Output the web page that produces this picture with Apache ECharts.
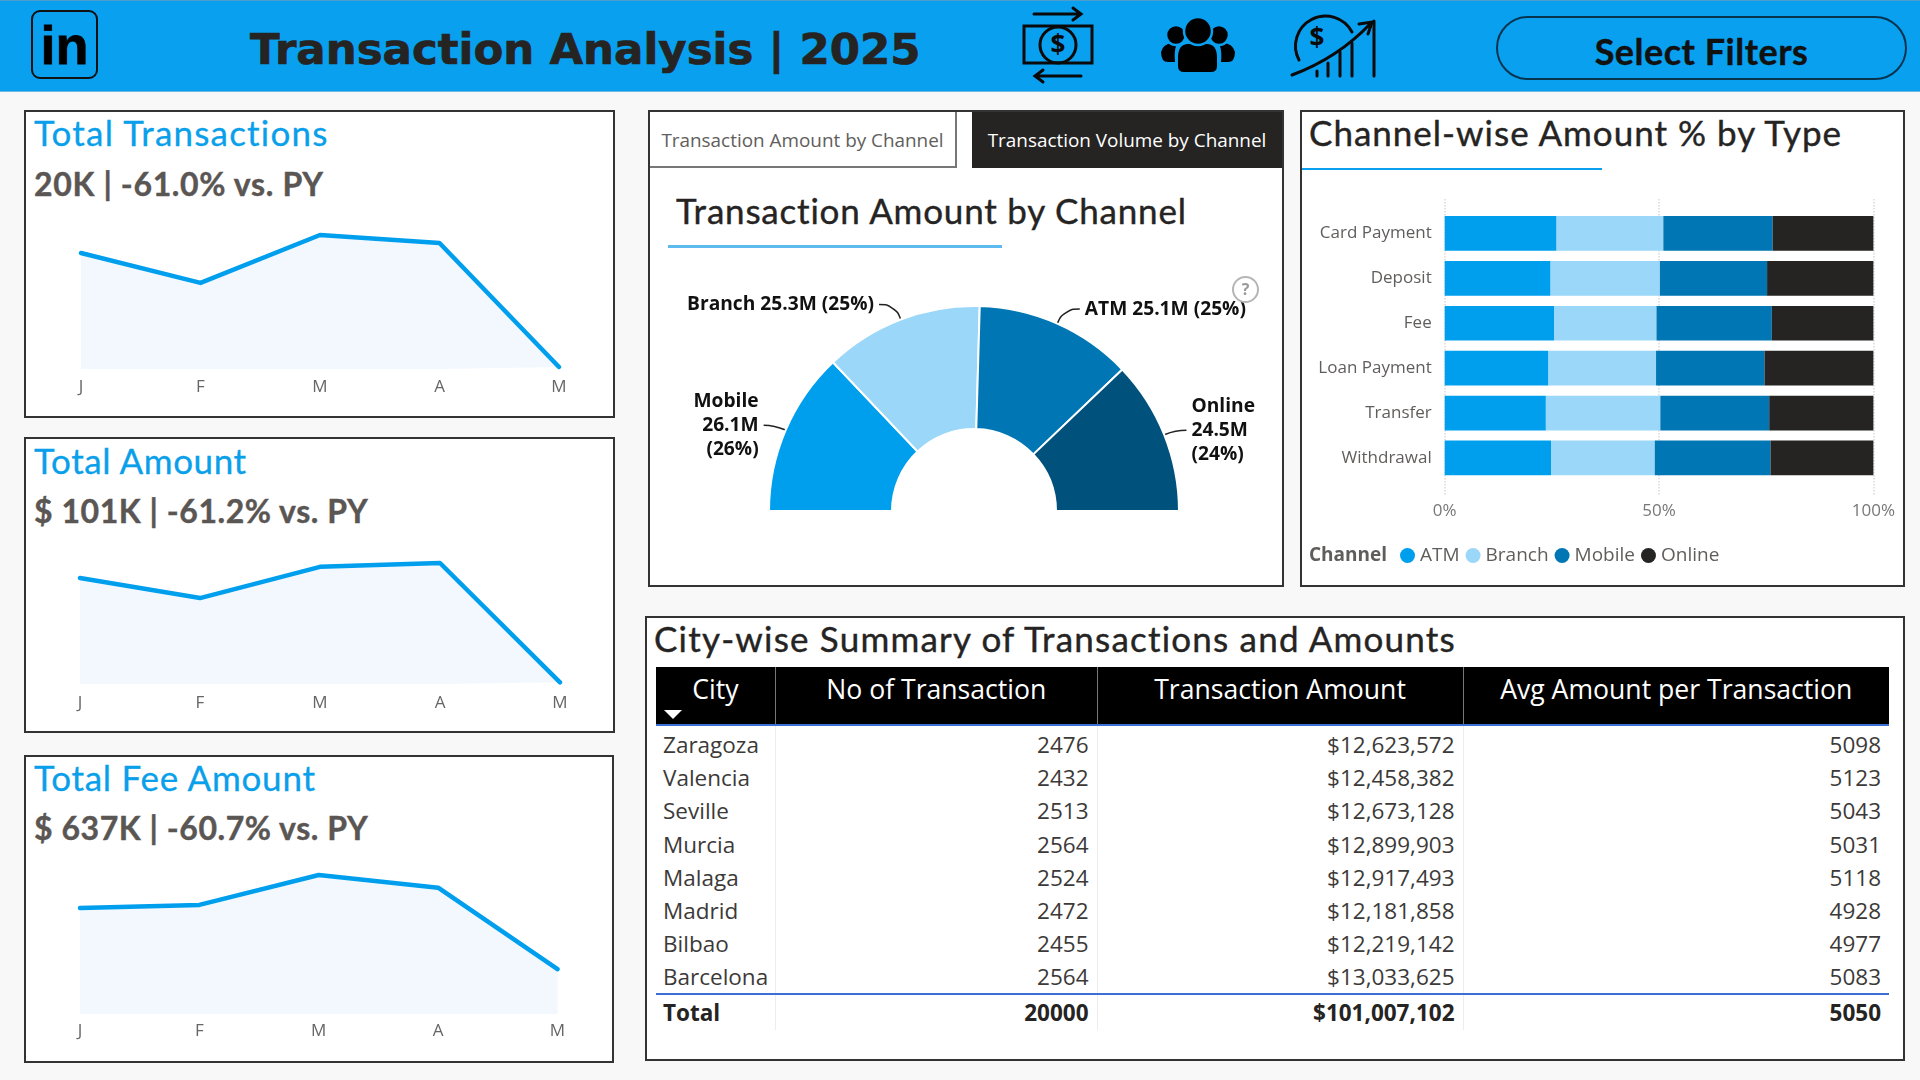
<!DOCTYPE html>
<html>
<head>
<meta charset="utf-8">
<title>Transaction Analysis | 2025</title>
<script src="https://cdn.jsdelivr.net/npm/echarts@6/dist/echarts.min.js"></script>
<style>
    html, body { margin: 0; padding: 0; background: #F8F8F8; width: 1920px; height: 1080px; overflow: hidden; font-family: "Open Sans", sans-serif; }
    .abs { position: absolute; }
    .header { left: 0; top: 0; width: 1920px; height: 92px; background: #0AA0F0; border-bottom: 1px solid #6FB8E6; border-top: 1px solid #4F9CCB; box-sizing: border-box; }
    .brand { left: 31px; top: 10px; width: 67px; height: 69px; border: 2px solid #111; border-radius: 9px; box-sizing: border-box; font: bold 54px "Liberation Sans"; color: #000; -webkit-text-stroke: 0.8px #000; text-align: center; line-height: 67px; }
    .main-title { left: 250px; top: 18px; font: bold 43.5px/62px "DejaVu Sans"; color: #252423; -webkit-text-stroke: 0.7px #252423; white-space: nowrap; }
    .filters { left: 1496px; top: 16px; width: 411px; height: 64px; border: 2px solid #06344F; border-radius: 32px; box-sizing: border-box; text-align: center; font: bold 36px/66px Lato; letter-spacing: 0.5px; color: #111; -webkit-text-stroke: 0.4px #111; }
    .panel { background: #fff; border: 2px solid #333; box-sizing: border-box; }
    .din { font-family: Lato, sans-serif; white-space: nowrap; }
    .card-title { color: #0A9FEA; font-size: 35px; line-height: 40px; letter-spacing: 1.2px; -webkit-text-stroke: 0.3px #0A9FEA; }
    .card-kpi { color: #5A5654; font-size: 32px; line-height: 40px; font-weight: bold; letter-spacing: 0.55px; -webkit-text-stroke: 0.4px #5A5654; }
    .tab { box-sizing: border-box; text-align: center; font-size: 18.9px; line-height: 56px; white-space: nowrap; }
    .tab-on { background: #fff; color: #605E5C; border: 2px solid #777; border-left: 0; border-top: 0; }
    .tab-off { background: #252423; color: #fff; }
    .panel-title { color: #252423; font-size: 35px; line-height: 42px; letter-spacing: 0.8px; -webkit-text-stroke: 0.4px #252423; }
    .help { left: 1232px; top: 276px; width: 27px; height: 27px; border: 2px solid #B5B5B5; border-radius: 50%; box-sizing: border-box; color: #999; font: bold 16px/23px "Open Sans"; text-align: center; z-index: 5; }
    table { border-collapse: collapse; table-layout: fixed; left: 656px; top: 667px; width: 1233px; font-size: 22.5px; color: #3C3A38; }
    th { background: #000; color: #fff; font-weight: normal; font-size: 26.6px; height: 58px; vertical-align: top; padding: 4px 0 0 0; border-left: 1px solid #777; border-bottom: 2px solid #3B6FD4; box-sizing: border-box; position: relative; }
    th:first-child { border-left: 0; }
    td { height: 33.3px; padding: 0 8px; box-sizing: border-box; border-left: 1px solid #EDEDED; text-align: right; white-space: nowrap; line-height: 30px; }
    td:first-child { border-left: 0; text-align: left; padding-left: 7px; padding-right: 0; }
    tr.spacer td { height: 3px; font-size: 0; line-height: 0; }
    tr.total td { font-weight: bold; height: 36px; color: #252423; border-top: 2px solid #3B6FD4; }
    .sort { position: absolute; left: 8px; top: 43px; width: 0; height: 0; border-left: 9px solid transparent; border-right: 9px solid transparent; border-top: 9px solid #fff; }
</style>
</head>
<body>

<div class="abs header"></div>
<div class="abs brand">in</div>
<div class="abs main-title">Transaction Analysis | 2025</div>

<svg class="abs" style="left:1010px;top:0" width="390" height="91" fill="none" stroke="#0A0A0A" stroke-linecap="round">
    <!-- money transfer -->
    <rect x="14" y="26" width="68" height="37" stroke-width="3"/>
    <circle cx="48" cy="45" r="18" stroke-width="3"/>
    <text x="48" y="54" text-anchor="middle" font-family="Open Sans" font-weight="bold" font-size="26" fill="#0A0A0A" stroke="none">$</text>
    <path d="M24 14H70M63 8L71 14L63 20" stroke-width="3"/>
    <path d="M71 76H26M33 70L25 76L33 82" stroke-width="3"/>
    <!-- people -->
    <g fill="#000" stroke="none">
        <path d="M168 58Q168 44 178 44H197Q207 44 207 58V66Q207 72 201 72H174Q168 72 168 66Z"/>
        <path d="M151 52Q153 44 162 43L166 46Q164 52 165 62H158Q151 62 151 52Z"/>
        <path d="M225 52Q223 44 214 43L210 46Q212 52 211 62H218Q225 62 225 52Z"/>
    </g>
    <g fill="#000" stroke="#0AA0F0" stroke-width="2.5">
        <circle cx="166" cy="35" r="10"/>
        <circle cx="209" cy="35" r="10"/>
        <circle cx="188" cy="31" r="14"/>
    </g>
    <!-- growth -->
    <path d="M289 60A24 24 0 1 1 342 32" stroke-width="3"/>
    <text x="307" y="47" text-anchor="middle" font-family="Open Sans" font-weight="bold" font-size="26" fill="#0A0A0A" stroke="none">$</text>
    <path d="M282 75Q328 58 361 23M349 24L362 22L358 34" stroke-width="3"/>
    <path d="M307 76V71M318 76V63M330 76V52M342 76V43M364 76V21" stroke-width="3"/>
</svg>

<div class="abs filters">Select Filters</div>

<div class="abs panel" style="left:24px;top:110px;width:591px;height:308px"></div>
<div class="abs din card-title" style="left:34px;top:112px" id="title0"></div>
<div class="abs din card-kpi" style="left:34px;top:164px;letter-spacing:0.65px" id="kpi0"></div>
<div class="abs" style="left:26px;top:210px;width:587px;height:206px" id="spark0"></div>

<div class="abs panel" style="left:24px;top:437px;width:591px;height:296px"></div>
<div class="abs din card-title" style="left:34px;top:440px;letter-spacing:0.6px" id="title1"></div>
<div class="abs din card-kpi" style="left:34px;top:491px" id="kpi1"></div>
<div class="abs" style="left:26px;top:535px;width:587px;height:196px" id="spark1"></div>

<div class="abs panel" style="left:24px;top:755px;width:590px;height:308px"></div>
<div class="abs din card-title" style="left:34px;top:757px;letter-spacing:0.75px" id="title2"></div>
<div class="abs din card-kpi" style="left:34px;top:808px" id="kpi2"></div>
<div class="abs" style="left:26px;top:850px;width:586px;height:211px" id="spark2"></div>

<div class="abs panel" style="left:648px;top:110px;width:636px;height:477px"></div>
<div class="abs tab tab-on" style="left:650px;top:112px;width:307px;height:56px">Transaction Amount by Channel</div>
<div class="abs tab tab-off" style="left:972px;top:112px;width:310px;height:56px">Transaction Volume by Channel</div>
<div class="abs din panel-title" style="left:676px;top:189px">Transaction Amount by Channel</div>
<div class="abs" style="left:668px;top:245px;width:334px;height:3px;background:#5DB9EE"></div>
<div class="abs help">?</div>
<div class="abs" style="left:650px;top:250px;width:632px;height:335px" id="pie"></div>

<div class="abs panel" style="left:1300px;top:110px;width:605px;height:477px"></div>
<div class="abs din panel-title" style="left:1309px;top:111px;letter-spacing:1px">Channel-wise Amount % by Type</div>
<div class="abs" style="left:1302px;top:168px;width:300px;height:2px;background:#0AA0EE"></div>
<div class="abs" style="left:1302px;top:172px;width:601px;height:413px" id="stack"></div>

<div class="abs panel" style="left:645px;top:616px;width:1260px;height:445px"></div>
<div class="abs din panel-title" style="left:654px;top:617px;letter-spacing:1.2px">City-wise Summary of Transactions and Amounts</div>
<table class="abs" id="cityTable"></table>

<script>
// sparkline cards
var cardTitles = ['Total Transactions', 'Total Amount', 'Total Fee Amount'];
var cardKpis = ['20K | -61.0% vs. PY', '$ 101K | -61.2% vs. PY', '$ 637K | -60.7% vs. PY'];
var months = ['J', 'F', 'M', 'A', 'M'];
var monthlyTransactions = [5000, 3710, 5775, 5430, 86];
var monthlyAmount = [24800, 20100, 27400, 28300, 400];
var monthlyFee = [128600, 132300, 168600, 153200, 54400];

// pie
var pieChannels = ['Mobile', 'Branch', 'ATM', 'Online'];
var pieAmounts = [26.1, 25.3, 25.1, 24.5];
var piePercents = [26, 25, 25, 24];
var pieColors = ['#009FEE', '#9BD7F8', '#0076B4', '#00527D'];

// 100% stacked bars
var txnTypes = ['Card Payment', 'Deposit', 'Fee', 'Loan Payment', 'Transfer', 'Withdrawal'];
var atmShare = [26.1, 24.7, 25.5, 24.2, 23.6, 24.8];
var branchShare = [24.9, 25.5, 23.9, 25.1, 26.7, 24.2];
var mobileShare = [25.5, 25.0, 26.9, 25.3, 25.4, 27.0];
var onlineShare = [23.5, 24.8, 23.7, 25.4, 24.3, 24.0];

// city table
var tableHeaders = ['City', 'No of Transaction', 'Transaction Amount', 'Avg Amount per Transaction'];
var cities = ['Zaragoza', 'Valencia', 'Seville', 'Murcia', 'Malaga', 'Madrid', 'Bilbao', 'Barcelona'];
var cityTransactions = [2476, 2432, 2513, 2564, 2524, 2472, 2455, 2564];
var cityAmounts = ['$12,623,572', '$12,458,382', '$12,673,128', '$12,899,903', '$12,917,493', '$12,181,858', '$12,219,142', '$13,033,625'];
var cityAverages = [5098, 5123, 5043, 5031, 5118, 4928, 4977, 5083];
var tableTotals = ['Total', 20000, '$101,007,102', 5050];

var BLUE = '#009FEE';

function drawSpark(id, values, gridLeft, gridRight, gridTop, gridBottom, labelMargin) {
    var chart = echarts.init(document.getElementById(id));
    chart.setOption({
        animation: false,
        grid: {left: gridLeft, right: gridRight, top: gridTop, bottom: gridBottom},
        xAxis: {
            type: 'category',
            data: months,
            boundaryGap: false,
            axisLine: {show: false},
            axisTick: {show: false},
            axisLabel: {color: '#666', fontSize: 17, fontFamily: 'Open Sans', margin: labelMargin, interval: 0}
        },
        yAxis: {type: 'value', min: 0, max: Math.max.apply(null, values), show: false},
        series: [{
            type: 'line',
            data: values,
            clip: false,
            symbol: 'none',
            lineStyle: {color: BLUE, width: 4.5, cap: 'round', join: 'round'},
            areaStyle: {color: '#F2F8FE', opacity: 1}
        }]
    });
}

drawSpark('spark0', monthlyTransactions, 55, 54, 25, 47, 10);
drawSpark('spark1', monthlyAmount, 54, 53, 28, 47, 11);
drawSpark('spark2', monthlyFee, 54, 54.5, 25, 47, 9);

cardTitles.forEach(function (t, i) {
    document.getElementById('title' + i).textContent = t;
    document.getElementById('kpi' + i).textContent = cardKpis[i];
});

// the two side labels wrap on three lines and sit closer to the arc
function isWrapped(name) {
    return name === 'Mobile' || name === 'Online';
}

var pieChart = echarts.init(document.getElementById('pie'));
pieChart.setOption({
    animation: false,
    series: [{
        type: 'pie',
        center: [324, 261],
        radius: [82, 205],
        startAngle: 180,
        endAngle: 0,
        itemStyle: {borderColor: '#fff', borderWidth: 2},
        label: {
            show: true,
            position: 'outside',
            color: '#111',
            fontFamily: 'Open Sans',
            fontSize: 19.2,
            fontWeight: 'bold',
            lineHeight: 24,
            formatter: function (p) {
                var amount = p.value + 'M', share = '(' + piePercents[p.dataIndex] + '%)';
                if (isWrapped(p.name)) {
                    return p.name + '\n' + amount + '\n' + share;
                }
                return p.name + ' ' + amount + ' ' + share;
            }
        },
        labelLine: {show: true, smooth: 0.5, lineStyle: {color: '#222', width: 1.5}},
        data: pieChannels.map(function (name, i) {
            return {
                name: name,
                value: pieAmounts[i],
                itemStyle: {color: pieColors[i]},
                labelLine: isWrapped(name) ? {length: 12, length2: 11} : {length: 16, length2: 16}
            };
        })
    }]
});

var stackLeft = 142.7, stackWidth = 428.7;
function stackSeries(name, values, color) {
    return {name: name, type: 'bar', stack: 'share', barWidth: 34.7, data: values, itemStyle: {color: color}};
}
var stackChart = echarts.init(document.getElementById('stack'));
stackChart.setOption({
    animation: false,
    title: {
        text: 'Channel',
        left: 7,
        top: 374,
        padding: 0,
        textStyle: {color: '#605E5C', fontFamily: 'Open Sans', fontSize: 19, fontWeight: 'bold'}
    },
    legend: {
        left: 93,
        top: 369,
        icon: 'circle',
        itemWidth: 15,
        itemHeight: 15,
        itemGap: 6,
        textStyle: {color: '#605E5C', fontFamily: 'Open Sans', fontSize: 19}
    },
    grid: [
        {left: stackLeft, width: stackWidth, top: 39, height: 269.4},
        {left: stackLeft, width: stackWidth, top: 27, height: 296}
    ],
    xAxis: [
        {type: 'value', gridIndex: 0, min: 0, max: 100, show: false},
        {
            type: 'value',
            gridIndex: 1,
            min: 0,
            max: 100,
            interval: 50,
            axisLine: {show: false},
            axisTick: {show: false},
            axisLabel: {color: '#777', fontFamily: 'Open Sans', fontSize: 17, margin: 8, formatter: '{value}%', hideOverlap: false},
            splitLine: {show: true, lineStyle: {color: '#D9D9D9', type: 'dotted', width: 1.5}}
        }
    ],
    yAxis: [
        {
            type: 'category',
            gridIndex: 0,
            data: txnTypes,
            inverse: true,
            axisLine: {show: false},
            axisTick: {show: false},
            axisLabel: {color: '#605E5C', fontFamily: 'Open Sans', fontSize: 17, margin: 13}
        },
        {type: 'value', gridIndex: 1, show: false}
    ],
    series: [
        stackSeries('ATM', atmShare, '#009FEE'),
        stackSeries('Branch', branchShare, '#9BD7F8'),
        stackSeries('Mobile', mobileShare, '#0076B4'),
        stackSeries('Online', onlineShare, '#252423')
    ]
});

// city table built from the arrays above
var colWidths = [119.5, 321.5, 366, 426];
var html = '<colgroup>' + colWidths.map(function (w) { return '<col style="width:' + w + 'px">'; }).join('') + '</colgroup>';
html += '<tr>' + tableHeaders.map(function (h, i) {
    return '<th>' + h + (i === 0 ? '<span class="sort"></span>' : '') + '</th>';
}).join('') + '</tr>';
html += '<tr class="spacer"><td></td><td></td><td></td><td></td></tr>';
cities.forEach(function (c, i) {
    html += '<tr><td>' + c + '</td><td>' + cityTransactions[i] + '</td><td>' + cityAmounts[i] + '</td><td>' + cityAverages[i] + '</td></tr>';
});
html += '<tr class="total">' + tableTotals.map(function (v) { return '<td>' + v + '</td>'; }).join('') + '</tr>';
document.getElementById('cityTable').innerHTML = html;
</script>
</body>
</html>
